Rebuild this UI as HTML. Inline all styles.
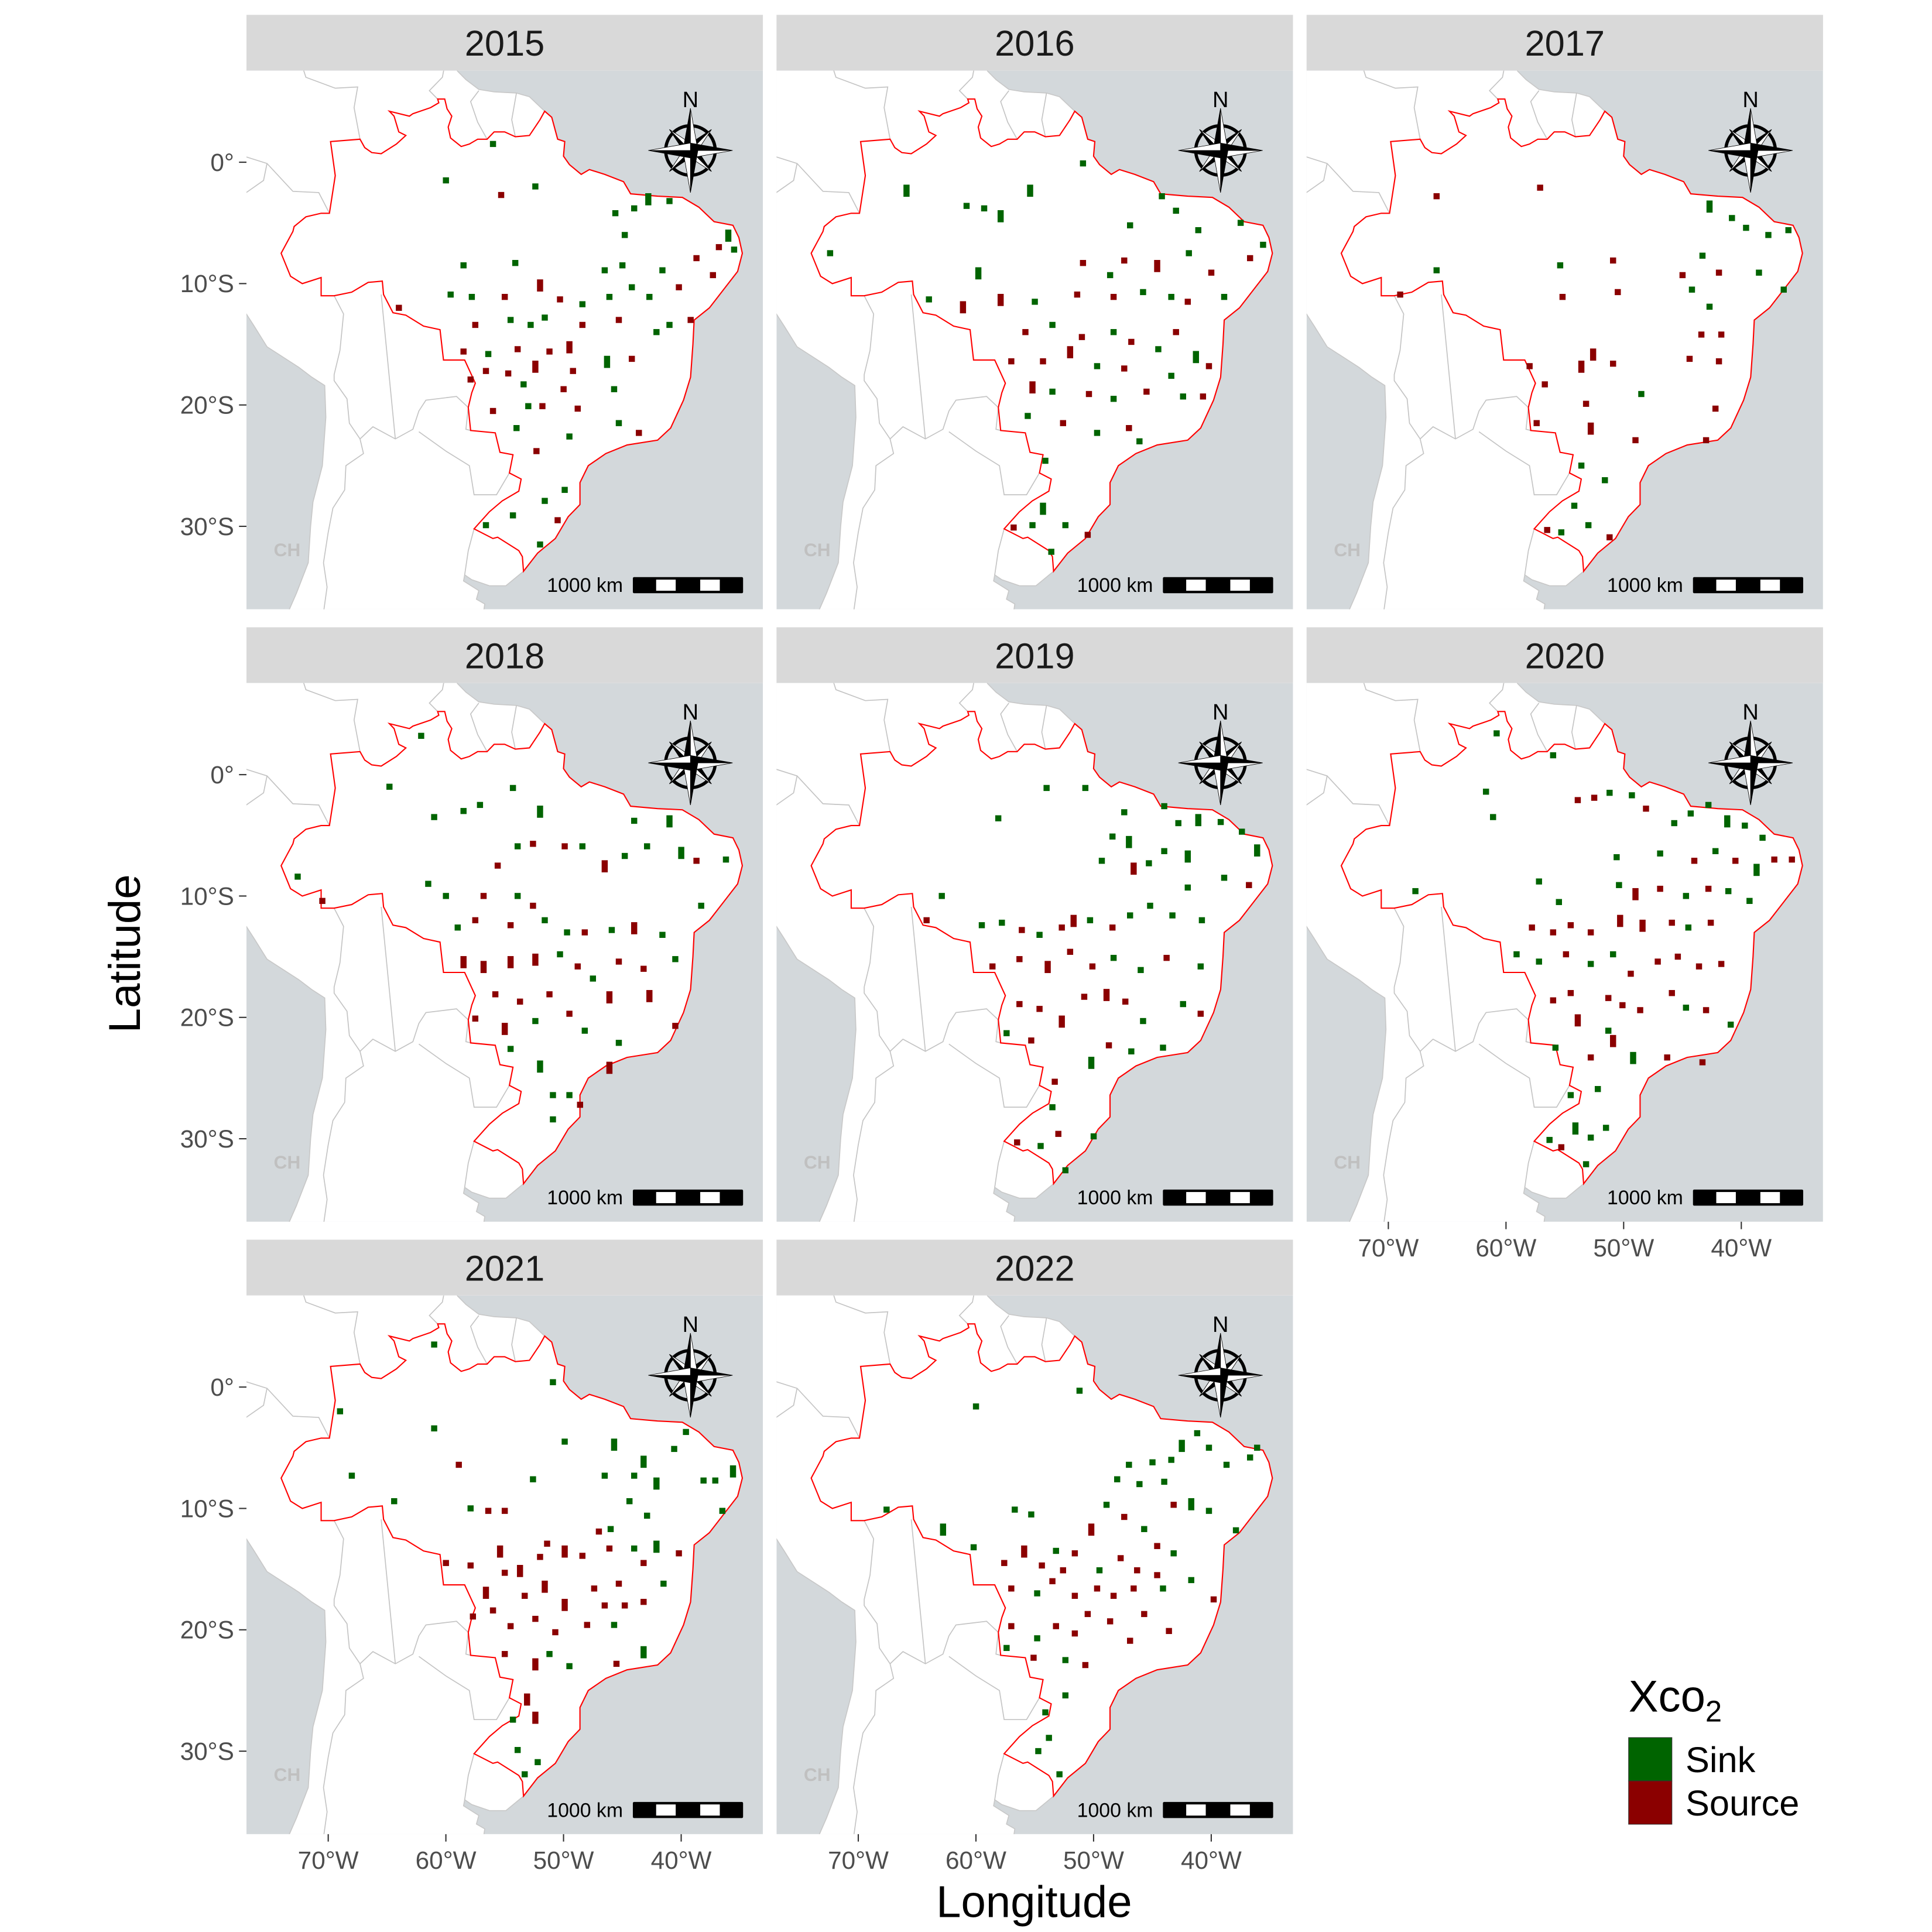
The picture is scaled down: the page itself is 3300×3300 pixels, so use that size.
<!DOCTYPE html>
<html><head><meta charset="utf-8"><style>
html,body{margin:0;padding:0;background:#fff;}
svg{display:block;font-family:"Liberation Sans",sans-serif;}
</style></head><body>
<svg id="chart" xmlns="http://www.w3.org/2000/svg" width="3300" height="3300" viewBox="0 0 1560 1560">
<rect x="0" y="0" width="1560" height="1560" fill="#ffffff"/>
<text x="113" y="770" font-size="36" fill="#000" text-anchor="middle" transform="rotate(-90 113 770)">Latitude</text>
<text x="835" y="1548" font-size="36" fill="#000" text-anchor="middle">Longitude</text>
<g>
<text x="1315" y="1382" font-size="36" fill="#000">Xco<tspan font-size="24" dy="8">2</tspan></text>
<rect x="1315" y="1403" width="35" height="35" fill="#006400" stroke="#333" stroke-width="0.5"/>
<rect x="1315" y="1438" width="35" height="35" fill="#8B0000" stroke="#333" stroke-width="0.5"/>
<text x="1361" y="1431" font-size="29" fill="#000">Sink</text>
<text x="1361" y="1466" font-size="29" fill="#000">Source</text>
</g>
</svg>
<script>
const years=["2015","2016","2017","2018","2019","2020","2021","2022"];
const latTicks=[0,-10,-20,-30];
const latTickLabels=["0°","10°S","20°S","30°S"];
const lonTicks=[-70,-60,-50,-40];
const lonTickLabels=["70°W","60°W","50°W","40°W"];
// cells: [lon, lat, type(0 sink,1 source), tall]
const cells2015=[[-56,1.5,0],[-60,-1.5,0],[-55.3,-2.7,1],[-52.4,-2,0],[-45.6,-4.2,0],[-44,-3.8,0],[-42.8,-2.8,0,1],[-41,-3.2,0],[-44.8,-6,0],[-36.8,-7,1],[-36,-5.8,0,1],[-35.5,-7.2,0],[-58.5,-8.5,0],[-54.1,-8.3,0],[-52,-9.9,1,1],[-46.5,-8.9,0],[-45,-8.5,0],[-41.6,-8.9,0],[-38.7,-7.9,1],[-37.3,-9.3,1],[-40.2,-10.3,1],[-57.8,-11.1,0],[-59.6,-10.9,0],[-55,-11.1,1],[-50.3,-11.3,1],[-48.4,-11.7,0],[-46.1,-11.1,0],[-44.2,-10.3,0],[-42.7,-11.1,0],[-57.5,-13.4,1],[-54.5,-13,0],[-52.8,-13.4,0],[-51.6,-12.8,0],[-48.4,-13.4,1],[-45.3,-13,1],[-41,-13.4,0],[-39.2,-13,1],[-49.5,-15,1,1],[-51.2,-15.6,1],[-53.9,-15.4,1],[-56.4,-15.8,0],[-58.5,-15.6,1],[-46.3,-16.2,0,1],[-44.2,-16.2,1],[-42.1,-14,0],[-56.6,-17.2,1],[-54.7,-17.4,1],[-52.4,-16.6,1,1],[-49.2,-17.2,1],[-57.9,-17.9,1],[-53.4,-18.3,0],[-50,-18.7,1],[-45.7,-18.7,0],[-56,-20.5,1],[-51.8,-20.1,1],[-53,-20.1,0],[-48.8,-20.3,1],[-54,-21.9,0],[-43.6,-22.3,1],[-45.3,-21.5,0],[-49.5,-22.6,0],[-52.3,-23.8,1],[-49.9,-27,0],[-51.6,-27.9,0],[-56.6,-29.9,0],[-54.3,-29.1,0],[-50.5,-29.5,1],[-52,-31.5,0],[-64,-12,1]];
const cells2016=[[-65.9,-2.1,0,1],[-72.4,-7.5,0],[-60.8,-3.6,0],[-59.3,-3.8,0],[-57.9,-4.2,0,1],[-55.4,-2.1,0,1],[-50.9,-0.1,0],[-46.9,-5.2,0],[-44.2,-2.8,0],[-43,-4,0],[-41.1,-5.6,0],[-37.5,-5,0],[-36.7,-7.9,1],[-35.6,-6.8,0],[-44.6,-8.3,1,1],[-41.9,-7.5,0],[-40,-9.1,1],[-48.6,-9.3,0],[-47.4,-8.1,1],[-50.9,-8.3,1],[-59.8,-8.9,0,1],[-64,-11.3,0],[-61.1,-11.7,1,1],[-57.9,-11.1,1,1],[-55,-11.5,0],[-51.4,-10.9,1],[-48.3,-11.1,1],[-45.8,-10.7,0],[-43.4,-11.1,0],[-42,-11.5,1],[-38.9,-11.1,0],[-55.8,-14,1],[-53.5,-13.4,0],[-51,-14.4,1],[-48.3,-14,0],[-46.8,-14.8,1],[-44.5,-15.4,0],[-43,-14,1],[-41.3,-15.8,0,1],[-57,-16.4,1],[-54.3,-16.4,1],[-52,-15.4,1,1],[-49.7,-16.8,0],[-47.4,-17,1],[-43.4,-17.6,0],[-40.2,-16.8,1],[-55.2,-18.3,1,1],[-53.5,-18.9,0],[-50.4,-19.1,1],[-48.3,-19.5,0],[-45.5,-18.9,1],[-42.4,-19.3,0],[-40.7,-19.3,1],[-55.6,-20.9,0],[-52.6,-21.5,1],[-49.7,-22.3,0],[-47,-21.9,1],[-46.1,-23,0],[-54.1,-24.6,0],[-54.3,-28.3,0,1],[-56.8,-30.1,1],[-55.2,-29.9,0],[-52.4,-29.9,0],[-50.5,-30.7,1],[-53.6,-32.1,0]];
const cells2017=[[-65.9,-2.8,1],[-57.1,-2.1,1],[-65.9,-8.9,0],[-69,-10.9,1],[-55.4,-8.5,0],[-55.2,-11.1,1],[-50.9,-8.1,1],[-50.5,-10.7,1],[-42.7,-3.4,0,1],[-40.8,-4.6,0],[-39.6,-5.4,0],[-37.7,-6,0],[-36,-5.6,0],[-43.3,-7.7,0],[-44.2,-10.5,0],[-41.9,-9.1,1],[-45,-9.3,1],[-42.7,-11.9,0],[-38.5,-9.1,0],[-36.4,-10.5,0],[-43.4,-14.2,1],[-41.7,-14.2,1],[-41.9,-16.4,1],[-44.4,-16.2,1],[-52.6,-15.6,1,1],[-50.9,-16.6,1],[-53.6,-16.6,1,1],[-58,-16.8,1],[-56.7,-18.3,1],[-48.5,-19.1,0],[-52.8,-21.7,1,1],[-53.2,-19.9,1],[-57.4,-21.5,1],[-49,-22.9,1],[-42.2,-20.3,1],[-43,-22.9,1],[-53.6,-25,0],[-51.6,-26.2,0],[-54.2,-28.3,0],[-53,-29.9,0],[-56.5,-30.3,1],[-55.3,-30.5,0],[-51.2,-30.9,1]];
const cells2018=[[-62.1,3.2,0],[-64.8,-1,0],[-61,-3.5,0],[-58.5,-3,0],[-57.1,-2.5,0],[-54.3,-1.1,0],[-52,-2.8,0,1],[-53.9,-5.9,0],[-52.6,-5.7,1],[-49.9,-5.9,1],[-48.4,-5.9,0],[-72.6,-8.4,0],[-70.5,-10.4,1],[-61.5,-9,0],[-60,-10,0],[-55.6,-7.5,1],[-56.8,-10,1],[-53.9,-10,0],[-52.6,-10.8,1],[-46.5,-7.3,1,1],[-44.8,-6.7,0],[-42.9,-5.9,0],[-41,-3.6,0,1],[-40,-6.2,0,1],[-44,-3.8,0],[-38.7,-7.1,1],[-36.2,-7,0],[-38.3,-10.8,0],[-59,-12.6,0],[-57.5,-12,1],[-54.5,-12.4,1],[-51.6,-12,0],[-49.7,-13,0],[-48.2,-13,1],[-45.9,-12.8,0],[-44,-12.4,1,1],[-41.6,-13.2,0],[-58.5,-15.2,1,1],[-56.8,-15.6,1,1],[-54.5,-15.2,1,1],[-52.4,-15,1,1],[-50.3,-14.8,0],[-48.8,-15.8,1],[-47.5,-16.8,0],[-45.3,-15.4,1],[-43.2,-16,1],[-40.5,-15.2,0],[-57.5,-20.1,1],[-55.8,-18.1,1],[-55,-20.7,1,1],[-53.7,-18.7,1],[-52.4,-20.3,0],[-51.2,-18.1,1],[-49.5,-19.7,1],[-48.2,-21.1,0],[-46.1,-18.1,1,1],[-42.7,-18,1,1],[-45.3,-22.1,0],[-46.1,-23.9,1,1],[-40.5,-20.7,1],[-54.5,-22.6,0],[-52,-23.8,0,1],[-50.9,-26.4,0],[-49.5,-26.4,0],[-48.6,-27.2,1],[-50.9,-28.4,0]];
const cells2019=[[-54,-1.1,0],[-58.1,-3.6,0],[-50.7,-1.1,0],[-47.4,-3.1,0],[-48.4,-5.1,0],[-47,-5.3,0,1],[-44,-2.6,0],[-42.8,-4,0],[-41.1,-3.5,0,1],[-39.2,-3.9,0],[-37.4,-4.7,0],[-36.1,-6,0,1],[-42,-6.5,0,1],[-44,-6.3,0],[-45.3,-7.3,0],[-46.6,-7.5,1,1],[-49.3,-7.1,0],[-36.8,-9.1,1],[-38.9,-8.5,0],[-42,-9.3,0],[-62.9,-10,0],[-64.2,-12,1],[-59.5,-12.4,0],[-57.8,-12.2,0],[-56.1,-12.8,1],[-54.6,-13.2,0],[-52.7,-12.6,1],[-51.7,-11.8,1,1],[-50.3,-12,0],[-48.4,-12.6,1],[-46.9,-11.6,0],[-45.2,-10.8,0],[-43.3,-11.6,0],[-40.8,-12,0],[-58.6,-15.8,1],[-56.3,-15.2,1],[-53.9,-15.6,1,1],[-52,-14.6,1],[-50.1,-15.8,1],[-48.3,-15.1,0],[-46,-16.1,0],[-43.8,-15.1,1],[-40.9,-15.8,0],[-56.3,-18.9,1],[-54.6,-19.3,1],[-52.7,-20.1,1,1],[-50.8,-18.3,1],[-48.9,-17.9,1,1],[-47.3,-18.7,1],[-45.8,-20.3,0],[-42.4,-18.9,0],[-40.9,-19.7,1],[-57.4,-21.3,0],[-55.3,-21.9,1],[-50.2,-23.5,0,1],[-48.7,-22.3,1],[-46.8,-22.8,0],[-44.1,-22.5,0],[-53.3,-25.3,1],[-53.5,-27.4,0],[-50,-29.8,0],[-56.5,-30.3,1],[-54.5,-30.6,0],[-53,-29.6,1],[-52.4,-32.6,0]];
const cells2020=[[-60.8,3.4,0],[-56,1.6,0],[-61.7,-1.4,0],[-61.1,-3.5,0],[-67.7,-9.6,0],[-53.9,-2.1,1],[-52.5,-1.9,1],[-51.2,-1.5,0],[-49.3,-1.7,0],[-48.1,-2.8,1],[-45.7,-4,0],[-44.3,-3.2,0],[-42.8,-2.5,0],[-41.2,-3.6,0,1],[-39.7,-4.2,0],[-38.2,-5.2,0],[-37.2,-7,1],[-35.7,-7,1],[-38.7,-7.6,0,1],[-40.5,-7.1,1],[-42.2,-6.3,0],[-44,-7.1,1],[-46.9,-6.5,0],[-50.6,-6.8,0],[-49,-9.6,1,1],[-50.4,-9.1,0],[-46.9,-9.4,1],[-44.7,-10,0],[-42.8,-9.4,1],[-41.1,-9.6,0],[-39.3,-10.4,0],[-57.2,-8.8,0],[-55.5,-10.5,0],[-57.8,-12.6,1],[-56,-13,1],[-54.5,-12.4,1],[-52.8,-13,1],[-50.3,-11.8,1,1],[-48.4,-12.2,1,1],[-45.9,-12.2,1],[-44.5,-12.6,0],[-42.6,-12.2,1],[-59.1,-14.8,0],[-57.2,-15.4,0],[-54.9,-14.8,1],[-52.8,-15.6,0],[-50.9,-14.8,0],[-49.4,-16.4,1],[-47.1,-15.4,1],[-45.4,-15,1],[-43.6,-15.8,1],[-41.7,-15.6,1],[-56,-18.6,1],[-54.5,-18,1],[-53.9,-20,1,1],[-51.3,-18.4,1],[-51.3,-21.1,0],[-50.1,-19,1],[-48.6,-19.4,1],[-45.9,-18,1],[-44.7,-19.2,0],[-43,-19.4,1],[-40.9,-20.6,0],[-55.8,-22.5,0],[-52.8,-23.3,1],[-50.9,-21.7,1,1],[-49.2,-23.1,0,1],[-46.3,-23.3,1],[-43.3,-23.7,1],[-54.5,-26.4,0],[-52.2,-25.9,0],[-54.1,-28.9,0,1],[-51.5,-29.1,0],[-52.8,-29.9,0],[-56.3,-30.1,0],[-55.3,-30.7,1],[-53.2,-32.1,0]];
const cells2021=[[-61,3.5,0],[-69,-2,0],[-68,-7.3,0],[-64.4,-9.4,0],[-61,-3.4,0],[-58.9,-6.4,1],[-50.9,0.4,0],[-49.9,-4.5,0],[-52.6,-7.6,0],[-56.4,-10.2,1],[-55,-10.2,1],[-57.9,-10,0],[-45.7,-4.5,0,1],[-46.5,-7.3,0],[-44,-7.3,0],[-43.2,-5.9,0,1],[-42.1,-7.7,0,1],[-40.6,-5.1,0],[-39.6,-3.7,0],[-38.1,-7.7,0],[-37.1,-7.7,0],[-35.6,-6.7,0,1],[-36.5,-10.2,0],[-44.4,-9.4,0],[-42.9,-10.6,0],[-46,-11.7,0],[-47,-11.9,1],[-51.4,-12.9,1],[-49.9,-13.3,1,1],[-42.1,-12.9,0,1],[-60,-14.5,1],[-57.9,-14.7,1],[-55.4,-13.3,1,1],[-53.7,-14.9,1,1],[-52,-14,1],[-48.4,-13.9,1],[-46.1,-13.3,1],[-44,-13.3,0],[-43.2,-14.5,1],[-40.2,-13.7,1],[-56.6,-16.7,1,1],[-55,-15.3,1],[-53.3,-17.2,1],[-51.6,-16.2,1,1],[-49.9,-17.7,1,1],[-47.4,-16.6,1],[-45.3,-16.2,1],[-43.2,-17.7,1],[-41.5,-16.2,0],[-57.7,-18.9,1],[-56,-18.4,1],[-54.5,-19.7,1],[-52.4,-19.1,1],[-50.7,-20.2,1],[-48,-19.6,1],[-46.5,-18,1],[-45.7,-19.6,0],[-44.8,-18,1],[-55,-22,1],[-52.4,-22.6,1,1],[-51.2,-22,0],[-49.5,-23,0],[-45.5,-22.8,1],[-43.2,-21.6,0,1],[-53.1,-25.5,1,1],[-54.3,-27.4,0],[-52.4,-27,1,1],[-53.9,-29.9,0],[-52.2,-30.9,0],[-53.3,-31.9,0]];
const cells2022=[[-60,-1.6,0],[-67.6,-10.1,0],[-62.8,-11.5,0,1],[-60.2,-13.2,0],[-56.7,-10.1,0],[-55.3,-10.5,0],[-51.2,-0.3,0],[-45,-6.2,0],[-43.4,-6,0],[-42.5,-4.6,0,1],[-41.2,-3.8,0],[-40.2,-5,0],[-38.7,-6.4,0],[-36.7,-5.8,0],[-36.1,-5,0],[-47,-6.4,0],[-48,-7.6,0],[-46.1,-8,0],[-44,-7.8,0],[-43.2,-9.7,1],[-41.7,-9.4,0,1],[-40.2,-10.2,0],[-37.9,-11.8,0],[-50.2,-11.5,1,1],[-48.9,-9.7,0],[-47.4,-10.7,1],[-45.7,-11.7,0],[-44.6,-13.1,1],[-43.2,-13.7,0],[-51.6,-13.7,1],[-53.2,-13.5,0],[-55.9,-13.3,1,1],[-57.6,-14.5,1],[-54.4,-14.7,1],[-52.6,-15.1,1],[-49.5,-15.1,0],[-47.7,-14.1,1],[-46.3,-15.1,1],[-44.6,-15.5,1],[-41.7,-15.9,0],[-57,-16.6,1],[-54.8,-17,0],[-53.5,-16,1],[-51.6,-17.2,1],[-49.7,-16.6,1],[-48.3,-17.2,1],[-46.6,-16.6,1],[-44.1,-16.6,0],[-57,-19.7,1],[-54.8,-20.7,0],[-53.2,-19.7,1],[-51.6,-20.3,1],[-50.5,-18.7,1],[-48.6,-19.3,1],[-46.9,-20.9,1],[-45.7,-18.7,1],[-43.6,-20.1,1],[-39.8,-17.5,1],[-57.4,-21.5,0],[-55.1,-22.3,1],[-52.4,-22.5,0],[-50.7,-22.9,1],[-52.4,-25.4,0],[-54.1,-26.8,0],[-54.7,-30,0],[-53.8,-28.9,0],[-52.9,-31.9,0]];
const allCells=[cells2015,cells2016,cells2017,cells2018,cells2019,cells2020,cells2021,cells2022];

// geography (lon, lat)
const brazil=[[-69.9,-4.2],[-69.4,-1.1],[-69.8,1.7],[-67.3,1.9],[-66.9,1.2],[-66.3,0.8],[-65.5,0.7],[-64.2,1.5],[-63.4,2.2],[-64.0,2.5],[-64.4,3.8],[-64.8,4.2],[-63.1,3.8],[-62.8,4.0],[-61.3,4.5],[-60.6,4.9],[-60.7,5.2],[-60.1,5.2],[-59.9,4.4],[-59.5,3.8],[-59.8,2.9],[-59.6,2.0],[-58.7,1.3],[-58.0,1.5],[-57.3,1.9],[-56.5,1.9],[-55.9,2.5],[-55.0,2.5],[-54.1,2.1],[-52.9,2.2],[-52.0,3.5],[-51.6,4.2],[-51.0,3.7],[-50.5,1.9],[-49.9,1.7],[-50.0,0.5],[-49.5,-0.2],[-48.5,-1.0],[-47.8,-0.6],[-46.5,-1.0],[-44.9,-1.6],[-44.3,-2.6],[-42.0,-2.8],[-39.9,-2.9],[-38.5,-3.7],[-37.2,-4.9],[-35.6,-5.2],[-35.1,-6.2],[-34.8,-7.5],[-35.2,-9.0],[-36.4,-10.5],[-37.6,-12.0],[-38.9,-13.0],[-39.0,-15.0],[-39.2,-17.7],[-39.8,-19.6],[-40.9,-21.9],[-42.0,-22.9],[-44.6,-23.3],[-46.4,-24.0],[-47.9,-25.0],[-48.6,-26.4],[-48.6,-28.2],[-49.6,-29.2],[-50.7,-31.0],[-52.2,-32.2],[-53.4,-33.7],[-53.5,-32.5],[-53.8,-32.0],[-55.6,-30.9],[-56.0,-31.0],[-57.6,-30.2],[-56.3,-28.8],[-55.2,-27.9],[-53.8,-27.1],[-53.6,-26.1],[-54.6,-25.6],[-54.3,-24.1],[-55.4,-23.9],[-55.8,-22.3],[-57.9,-22.1],[-58.1,-20.2],[-57.8,-19.0],[-57.5,-18.2],[-58.4,-16.3],[-60.2,-16.3],[-60.5,-13.8],[-61.9,-13.5],[-63.4,-12.6],[-64.5,-12.4],[-65.3,-10.9],[-65.4,-9.8],[-66.6,-9.9],[-68.0,-10.7],[-69.5,-11.0],[-70.6,-11.0],[-70.6,-9.5],[-72.2,-10.0],[-73.2,-9.4],[-74.0,-7.5],[-73.0,-5.7],[-72.9,-5.3],[-71.9,-4.5],[-70.6,-4.2]];
const landNorth=[[-78,9],[-60,9],[-59,7.5],[-58.3,6.8],[-57.2,6.0],[-55.9,5.8],[-54.0,5.7],[-52.9,5.4]];
const landSouth=[[-54.9,-34.9],[-56.3,-34.9],[-57.8,-34.4],[-58.4,-34.0],[-58.5,-34.5],[-57.2,-35.3],[-57.4,-36.0],[-56.7,-36.4],[-57.0,-38.5],[-73.8,-38.5],[-73.6,-37.5],[-72.7,-35.5],[-71.7,-33],[-71.5,-30],[-71.3,-28],[-70.5,-25],[-70.2,-21],[-70.3,-18.4],[-71.4,-17.7],[-72.5,-16.9],[-75.2,-15.2],[-76.3,-13.5],[-77.3,-12],[-78,-11]];
const borders=[
[[-69.5,-11],[-68.7,-12.5],[-69.0,-15.5],[-69.5,-17.5],[-69.5,-18.0],[-68.4,-19.5],[-68.2,-21.5],[-67.3,-22.8],[-66.2,-21.8],[-64.3,-22.8],[-62.8,-22.0],[-62.3,-20.5],[-61.7,-19.6],[-59.1,-19.3],[-58.1,-20.2]],
[[-67.3,-22.8],[-67.0,-24],[-68.5,-25],[-68.6,-27],[-69.6,-28.5],[-70.0,-30.5],[-70.4,-33],[-70.1,-35],[-70.6,-38.5]],
[[-62.3,-22.2],[-60.0,-23.8],[-58.0,-25],[-57.6,-27.4],[-55.7,-27.4],[-54.6,-25.6]],
[[-67.3,1.9],[-67.8,4.5],[-67.5,6.2],[-69.4,6.1],[-71.9,7.0],[-72.4,8.5]],
[[-69.9,-4.2],[-70.8,-2.5],[-73.0,-2.4],[-75.2,-0.1],[-77.5,0.6]],
[[-75.2,-0.1],[-75.5,-1.5],[-78,-3.2]],
[[-60.7,5.2],[-61.4,5.9],[-60.3,7.0],[-60.0,8.5]],
[[-56.5,1.9],[-57.3,3.3],[-57.9,5.0],[-57.2,5.9]],
[[-54.1,2.1],[-54.4,3.5],[-54.0,5.7]],
[[-57.6,-30.2],[-58.1,-32.0],[-58.4,-34.0]],
[[-65.5,-10.9],[-64.3,-22.8]],
[[-58.1,-20.2],[-58.3,-22],[-57.9,-22.1]]];

const NS="http://www.w3.org/2000/svg";
const svg=document.getElementById('chart');
function mk(tag,attrs,parent){const e=document.createElementNS(NS,tag);for(const k in attrs)e.setAttribute(k,attrs[k]);(parent||svg).appendChild(e);return e;}
const PW=417,PH=435,STRIP=45;
const LON0=-76.95,LAT0=7.55,KX=9.5,KY=9.8;
const colX=[199,627,1055];
const rowY=[57,551.5,1046];
function ptsStr(arr,sx,sy){return arr.map(p=>sx(p[0]).toFixed(1)+','+sy(p[1]).toFixed(1)).join(' ');}

years.forEach((yr,i)=>{
  const c=i%3,r=Math.floor(i/3);
  const x0=colX[c],y0=rowY[r];
  const sx=lon=>x0+(lon-LON0)*KX;
  const sy=lat=>y0+(LAT0-lat)*KY;
  const g=mk('g',{});
  
  
  const strip=mk('rect',{x:x0,y:y0-STRIP,width:PW,height:STRIP,fill:'#d9d9d9'},g);
  
  
  const st=mk('text',{x:x0+PW/2,y:y0-12,'font-size':29,fill:'#1a1a1a','text-anchor':'middle'},g);
  st.textContent=yr;
  
  
  const cp=mk('clipPath',{id:'clip'+i},g);
  mk('rect',{x:x0,y:y0,width:PW,height:PH},cp);
  const m=mk('g',{'clip-path':'url(#clip'+i+')'},g);
  
  
  const sea=mk('rect',{x:x0,y:y0,width:PW,height:PH,fill:'#d3d8db'},m);
  
  
  const iA=brazil.findIndex(p=>p[0]===-51.6&&p[1]===4.2);
  const iB=brazil.findIndex(p=>p[0]===-53.4&&p[1]===-33.7);
  const coast=brazil.slice(iA,iB+1);
  const land=mk('polygon',{points:ptsStr(landNorth.concat(coast,landSouth),sx,sy),fill:'#ffffff',stroke:'#c8c8c8','stroke-width':0.8},m);
  
  
  borders.forEach(b=>{const l=mk('polyline',{points:ptsStr(b,sx,sy),fill:'none',stroke:'#c4c4c4','stroke-width':0.8},m);
    
    });
  const ch=mk('text',{x:x0+22,y:y0+392,'font-size':15,'font-weight':'bold',fill:'#c0c0c0'},m);
  ch.textContent='CH';
  
  
  const br=mk('polygon',{points:ptsStr(brazil,sx,sy),fill:'#ffffff',stroke:'#ff0000','stroke-width':1},m);
  
  
  const cw=0.52*KX, chh=0.5*KY;
  allCells[i].forEach(cl=>{
    const h=cl[3]?chh*2:chh;
    const rc=mk('rect',{x:(sx(cl[0])-cw/2).toFixed(1),y:(sy(cl[1])-chh/2).toFixed(1),width:cw.toFixed(2),height:h.toFixed(2),fill:cl[2]?'#8B0000':'#006400'},m);
    
    
  });
  const cx=x0+358.5,cy=y0+64.5;
  const cg=mk('g',{},m);
  
  
  mk('circle',{cx:cx,cy:cy,r:20,fill:'none',stroke:'#000','stroke-width':2.6},cg);
  const arm=(ang,len,wid)=>{const a=ang*Math.PI/180;const tx=cx+Math.sin(a)*len,ty=cy-Math.cos(a)*len;
    const lx=cx+Math.sin(a-Math.PI/2)*wid,ly=cy-Math.cos(a-Math.PI/2)*wid;
    const rx=cx+Math.sin(a+Math.PI/2)*wid,ry=cy-Math.cos(a+Math.PI/2)*wid;
    mk('polygon',{points:`${cx},${cy} ${tx},${ty} ${lx},${ly}`,fill:'#000',stroke:'#000','stroke-width':0.4},cg);
    mk('polygon',{points:`${cx},${cy} ${tx},${ty} ${rx},${ry}`,fill:'#fff',stroke:'#000','stroke-width':0.4},cg);};
  [45,135,225,315].forEach(a=>arm(a,24,5));
  [0,90,180,270].forEach(a=>arm(a,34,6));
  const nt=mk('text',{x:cx,y:cy-35,'font-size':18,fill:'#000','text-anchor':'middle'},cg);
  nt.textContent='N';
  const sg=mk('g',{},m);
  
  
  const bx=x0+312,by=y0+409,bw=89,bh=13;
  mk('rect',{x:bx,y:by,width:bw,height:bh,fill:'#000',rx:1},sg);
  [1,3].forEach(k=>mk('rect',{x:bx+k*bw/5+1,y:by+2,width:bw/5-2,height:bh-4,fill:'#fff'},sg));
  const sl=mk('text',{x:x0+304,y:y0+421,'font-size':16,fill:'#000','text-anchor':'end'},sg);
  sl.textContent='1000 km';
  if(c===0){
    latTicks.forEach((v,k)=>{
      const yy=sy(v);
      const tk=mk('line',{x1:x0-6,x2:x0,y1:yy,y2:yy,stroke:'#333','stroke-width':1},g);
      
      
      const tl=mk('text',{x:x0-10,y:yy+7,'font-size':20,fill:'#4d4d4d','text-anchor':'end'},g);
      tl.textContent=latTickLabels[k];
      
      
    });
  }
  if(i===5||i===6||i===7){
    lonTicks.forEach((v,k)=>{
      const xx=sx(v);
      const tk=mk('line',{x1:xx,x2:xx,y1:y0+PH,y2:y0+PH+6,stroke:'#333','stroke-width':1},g);
      
      
      const tl=mk('text',{x:xx,y:y0+PH+28,'font-size':20,fill:'#4d4d4d','text-anchor':'middle'},g);
      tl.textContent=lonTickLabels[k];
      
      
    });
  }
});
</script>
</body></html>
